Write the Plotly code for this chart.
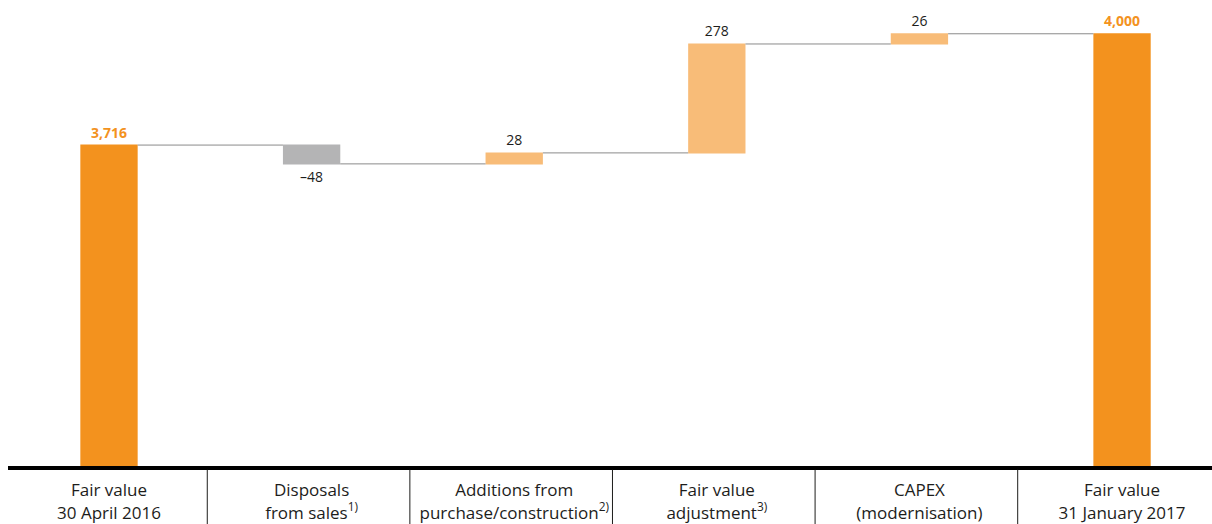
import plotly.graph_objects as go

categories = [
    "Fair value<br>30 April 2016",
    "Disposals<br>from sales<sup>1)</sup>",
    "Additions from<br>purchase/construction<sup>2)</sup>",
    "Fair value<br>adjustment<sup>3)</sup>",
    "CAPEX<br>(modernisation)",
    "Fair value<br>31 January 2017",
]
values = [3716, -48, 28, 278, 26, 4000]
measures = ["absolute", "relative", "relative", "relative", "relative", "total"]

ORANGE = "#F3921E"
LIGHT = "#F8BC78"
GREY = "#B4B4B5"
DARK = "#1d1d1b"


def fmt(v):
    s = f"{abs(v):,}"
    return ("\u2013" + s) if v < 0 else s


texts = []
colors = []
for v, m in zip(values, measures):
    if m in ("absolute", "total"):
        texts.append(f"<b>{fmt(v)}</b>")
        colors.append(ORANGE)
    else:
        texts.append(fmt(v))
        colors.append(DARK)

xpos = list(range(len(categories)))

fig = go.Figure(
    go.Waterfall(
        x=xpos,
        y=values,
        measure=measures,
        text=texts,
        textposition="outside",
        textfont=dict(color=colors, size=14, family="Open Sans"),
        width=0.283,
        increasing=dict(marker=dict(color=LIGHT)),
        decreasing=dict(marker=dict(color=GREY)),
        totals=dict(marker=dict(color=ORANGE)),
        connector=dict(line=dict(color="#8a8a8a", width=1)),
        hoverinfo="skip",
        cliponaxis=False,
    )
)

# vertical separators between category labels
for i in range(len(categories) - 1):
    fig.add_shape(
        type="line", xref="x", yref="paper",
        x0=i + 0.485, x1=i + 0.485, y0=-0.008, y1=-0.13,
        line=dict(color="#1d1d1b", width=1),
    )

fig.update_layout(
    width=1212,
    height=524,
    margin=dict(l=8, r=0, t=0, b=55),
    paper_bgcolor="white",
    plot_bgcolor="white",
    showlegend=False,
    xaxis=dict(
        range=[-0.4985, 5.444],
        tickmode="array",
        tickvals=xpos,
        ticktext=categories,
        tickfont=dict(size=17, color=DARK, family="Open Sans"),
        showgrid=False,
        zeroline=False,
        showline=True,
        linecolor="black",
        linewidth=4,
        ticks="outside",
        ticklen=6,
        tickcolor="rgba(0,0,0,0)",
    ),
    yaxis=dict(
        range=[2897, 4086.2],
        visible=False,
        showgrid=False,
        zeroline=False,
    ),
)

fig.write_html("out.html")
